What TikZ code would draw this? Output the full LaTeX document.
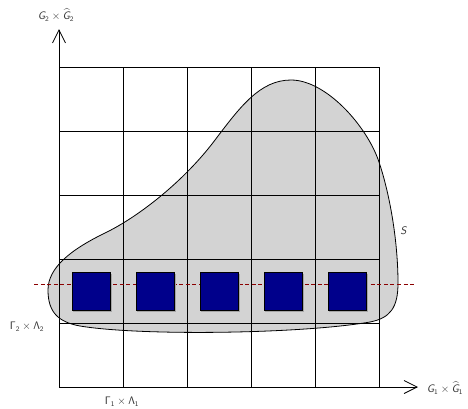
\documentclass[tikz,border=0pt]{standalone}
\usepackage{amsmath}
\usetikzlibrary{arrows.meta}
\DeclareMathAlphabet{\mathsfit}{OT1}{cmss}{m}{sl}
\definecolor{shapegray}{RGB}{211,211,211}
\definecolor{sqblue}{RGB}{0,0,139}
\definecolor{dashred}{RGB}{139,0,0}
\begin{document}
\begin{tikzpicture}[x=1bp,y=-1bp,
  gridline/.style={line width=0.8bp,black},
  region/.style={fill=shapegray,draw=black,line width=0.8bp},
  sq/.style={draw=black,line width=0.6bp,fill=sqblue,minimum size=38bp,inner sep=0pt,outer sep=0pt},
  sqshadow/.style={fill=black!35},
  redline/.style={dashred,line width=1bp,dash pattern=on 4bp off 2.6bp},
  axis/.style={line width=0.8bp,black,-{Straight Barb[length=13bp,width=13bp,line width=0.8bp]}},
  lab/.style={text=black!80,inner sep=0pt,font=\fontsize{10.5}{12}\selectfont}]
\useasboundingbox (0,0) rectangle (468,408);
% region S
\draw[region] (48,290)
  .. controls (48,268) and (70,250) .. (105,233)
  .. controls (140,216) and (185,180) .. (215,140)
  .. controls (240,107) and (260,80) .. (291,80)
  .. controls (326,80) and (367,126) .. (379,162)
  .. controls (391,198) and (398,245) .. (398,283)
  .. controls (398,308) and (390,318) .. (370,322)
  .. controls (300,334) and (140,336) .. (80,326)
  .. controls (58,322) and (48,312) .. (48,290) -- cycle;
% grid
\foreach \i in {0,...,5} {
  \draw[gridline] (59+64*\i,67) -- (59+64*\i,387);
  \draw[gridline] (59,67+64*\i) -- (379,67+64*\i);
}
% dashed line
\coordinate (dl) at (34,284);
\coordinate (dr) at (415,284);
\draw[redline] (dl) -- (dr);
% squares
\foreach \i in {0,...,4} {
  \fill[sqshadow] (91+64*\i-18,291.5-18) rectangle (91+64*\i+20.5,291.5+20.5);
  \node[sq] (s\i) at (91+64*\i,291.5) {};
}
% axes
\coordinate (o) at (59,387);
\coordinate (xe) at (418,387);
\coordinate (ye) at (59,29);
\draw[axis] (o) -- (xe);
\draw[axis] (o) -- (ye);
% labels
\node[lab] (ly) at (56,15) {$\mathsfit{G}_{\mathsf{2}}\times\widehat{\mathsfit{G}}_{\mathsf{2}}$};
\node[lab] (lx) at (445,388) {$\mathsfit{G}_{\mathsf{1}}\times\widehat{\mathsfit{G}}_{\mathsf{1}}$};
\node[lab] (lg2) at (27,327) {$\mathsf{\Gamma_2\times\Lambda_2}$};
\node[lab] (lg1) at (122,402) {$\mathsf{\Gamma_1\times\Lambda_1}$};
\node[lab] (ls) at (404,231) {$\mathsfit{S}$};
\end{tikzpicture}
\end{document}
